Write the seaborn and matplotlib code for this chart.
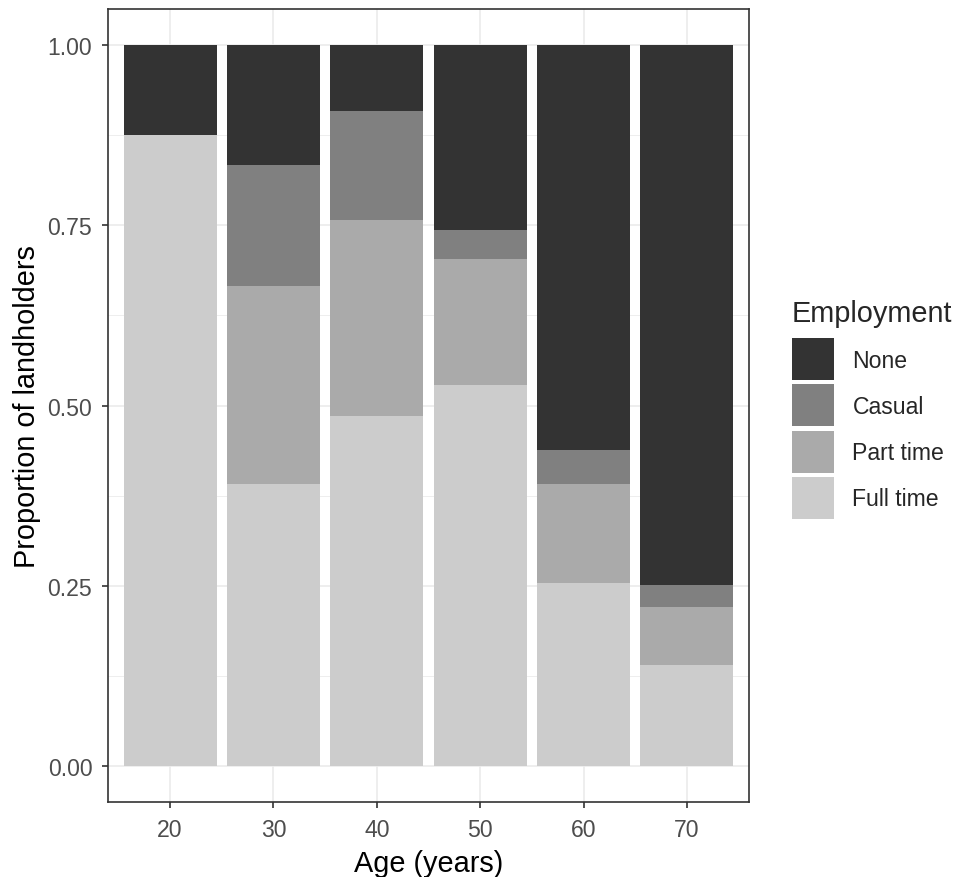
import numpy as np
import pandas as pd
import matplotlib
matplotlib.use("Agg")
import matplotlib.pyplot as plt
from matplotlib.patches import Patch, Rectangle
from matplotlib.legend_handler import HandlerBase
from matplotlib.ticker import MultipleLocator
import seaborn as sns

ages = ["20", "30", "40", "50", "60", "70"]
full_time = [0.875, 0.391, 0.486, 0.528, 0.254, 0.140]
part_time = [0.000, 0.275, 0.272, 0.175, 0.137, 0.081]
casual = [0.000, 0.168, 0.151, 0.041, 0.047, 0.030]
none = [0.125, 0.166, 0.091, 0.256, 0.562, 0.749]

categories = ["None", "Casual", "Part time", "Full time"]
colors = {"None": "#333333", "Casual": "#808080", "Part time": "#AAAAAA", "Full time": "#CCCCCC"}

df = pd.DataFrame({"Age": ages, "Full time": full_time, "Part time": part_time,
                   "Casual": casual, "None": none})
# cumulative tops (stack order bottom -> top: Full time, Part time, Casual, None)
df["cum_ft"] = df["Full time"]
df["cum_pt"] = df["cum_ft"] + df["Part time"]
df["cum_ca"] = df["cum_pt"] + df["Casual"]
df["cum_no"] = df["cum_ca"] + df["None"]

sns.set_style("white")
plt.rcParams['font.family'] = ['Liberation Sans', 'DejaVu Sans']

fig = plt.figure(figsize=(9.59, 8.78), dpi=100)
ax = fig.add_axes([108/959, 1 - 803/878, (749-108)/959, (803-10)/878])

for col, cat in [("cum_no", "None"), ("cum_ca", "Casual"), ("cum_pt", "Part time"), ("cum_ft", "Full time")]:
    sns.barplot(data=df, x="Age", y=col, color=colors[cat], width=0.9,
                linewidth=0, saturation=1, ax=ax, zorder=2, errorbar=None)

ax.set_xlim(-0.6, 5.6)
ax.set_ylim(-0.05, 1.05)
ax.yaxis.set_minor_locator(MultipleLocator(0.125))
ax.set_yticks([0, 0.25, 0.5, 0.75, 1.0])
ax.set_yticklabels(["0.00", "0.25", "0.50", "0.75", "1.00"])

ax.grid(True, which="major", color="#EBEBEB", linewidth=1.2, zorder=0)
ax.grid(True, which="minor", axis="y", color="#EBEBEB", linewidth=0.6, zorder=0)
ax.set_axisbelow(True)

for s in ax.spines.values():
    s.set_color("#333333")
    s.set_linewidth(1.2)

ax.tick_params(axis="both", which="major", direction="out", length=4.3, width=1.2,
               color="#333333", labelcolor="#4D4D4D", labelsize=16.6, pad=7)
ax.tick_params(axis="y", which="minor", length=0)
ax.tick_params(bottom=True, left=True)

ax.set_xlabel("Age (years)", fontsize=20.8, color="black", labelpad=6)
ax.set_ylabel("Proportion of landholders", fontsize=20.8, color="black", labelpad=5)


class SquareHandler(HandlerBase):
    def create_artists(self, legend, orig_handle, xdescent, ydescent, width, height,
                       fontsize, trans):
        side = 30.2  # points (~42 px)
        cy = -ydescent + height / 2.0
        r = Rectangle((-xdescent, cy - side / 2.0), width, side,
                      facecolor=orig_handle.get_facecolor(), edgecolor="none",
                      transform=trans)
        return [r]


handles = [Patch(facecolor=colors[c], edgecolor="none", label=c) for c in categories]
leg = fig.legend(handles=handles, title="Employment", loc="upper left",
                 bbox_to_anchor=(792/959, 1 - 300/878), frameon=False,
                 fontsize=16.6, title_fontsize=20.8, handlelength=1.82, handleheight=1.88,
                 labelspacing=0.537, handletextpad=0.8, borderaxespad=0, borderpad=0,
                 handler_map={Patch: SquareHandler()})
leg._legend_box.align = "left"
leg._legend_box.sep = 11

fig.savefig("out.png", dpi=100)
